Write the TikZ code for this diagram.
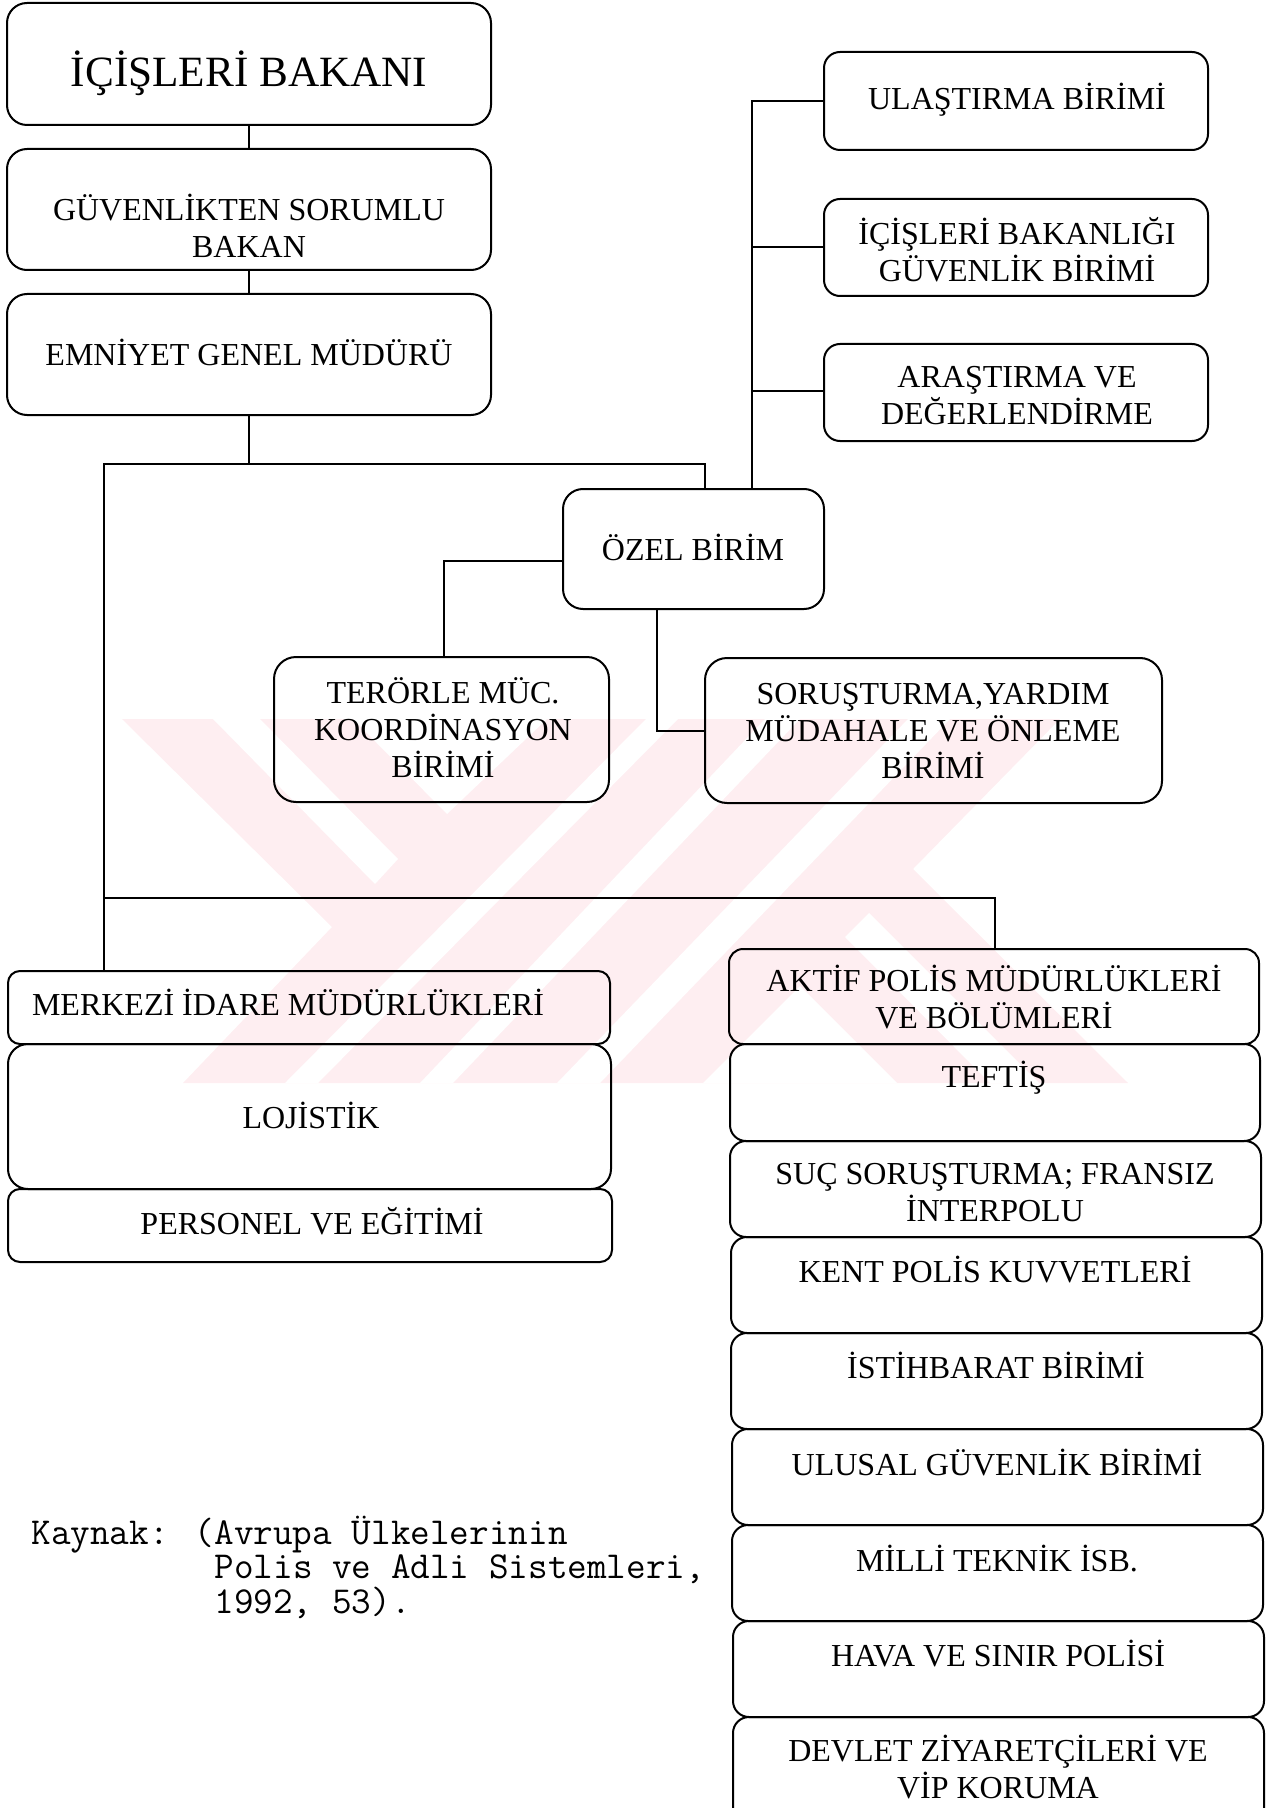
\documentclass[tikz,border=0pt]{standalone}
\usepackage{fontspec}
\setmainfont{Liberation Serif}
\usetikzlibrary{fit}
\definecolor{wm}{RGB}{254,238,241}
\newcommand{\stt}{\rule[-0.02em]{0pt}{0.68em}}
\setlength{\lineskiplimit}{-20pt}
\tikzset{
  x=0.5pt,y=-0.5pt,
  boxst/.style={draw=black,line width=1pt,inner sep=0pt,outer sep=0pt},
  labelst/.style={inner sep=0pt,align=center,font=\fontsize{16}{18.5}\selectfont,
    execute at begin node={\stt},execute at end node={\stt}},
  titlest/.style={font=\fontsize{21.6}{26}\selectfont},
  link/.style={draw=black,line width=1pt,line join=miter},
  srcst/.style={inner sep=0pt,align=left,anchor=west,font=\fontsize{19.05}{17.2}\selectfont\ttfamily}
}
% name, x1, y1, x2, y2, radius (pt), text x, text y, text
\newcommand{\bx}[9]{%
  \node[boxst,rounded corners=#6pt,fit={(#2,#3)(#4,#5)}] (#1) {};
  \node[labelst] (#1t) at (#7,#8) {#9};
}
\begin{document}
\begin{tikzpicture}
\useasboundingbox (0,0) rectangle (1272,1808);
\clip (0,0) rectangle (1272,1808);
% watermark
\begin{scope}
  \clip (122,719) -- (1060,719) -- (913,869) -- (1128,1083) -- (183,1083) -- (332,927) -- cycle;
  \fill[wm] (100,700) rectangle (1150,1100);
  \fill[white] (213,719) -- (260,719) -- (398,859) -- (375,884) -- cycle;
  \fill[white] (353,719) -- (547,719) -- (447,814) -- cycle;
  \fill[white] (990,1083) -- (1039,1083) -- (869,913) -- (845,937) -- cycle;
  \fill[white] (703,1083) -- (897,1083) -- (800,986) -- cycle;
  \fill[white] (285,1083) -- (318,1083) -- (678,719) -- (646,719) -- cycle;
  \fill[white] (420,1083) -- (453,1083) -- (800,719) -- (765,719) -- cycle;
  \fill[white] (557,1083) -- (600,1083) -- (950,719) -- (908,719) -- cycle;
\end{scope}
% boxes
\node[boxst,rounded corners=10pt,fit={(7,3)(491,125)}] (bak) {};
\node[labelst,titlest] (bakt) at (249,73) {İÇİŞLERİ BAKANI};
\bx{guv}{7}{149}{491}{270}{10}{249}{226}{GÜVENLİKTEN SORUMLU\\BAKAN}
\bx{emn}{7}{294}{491}{415}{10}{249}{353}{EMNİYET GENEL MÜDÜRÜ}
\bx{ula}{824}{52}{1208}{150}{8}{1017}{100}{ULAŞTIRMA BİRİMİ}
\bx{ibg}{824}{199}{1208}{296}{8}{1017}{250}{İÇİŞLERİ BAKANLIĞI\\GÜVENLİK BİRİMİ}
\bx{ars}{824}{344}{1208}{441}{8}{1017}{396}{ARAŞTIRMA VE\\DEĞERLENDİRME}
\bx{oz}{563}{489}{824}{609}{10}{693}{548}{ÖZEL BİRİM}
\bx{ter}{274}{657}{609}{802}{11}{443}{728}{TERÖRLE MÜC.\\KOORDİNASYON\\BİRİMİ}
\bx{sor}{705}{658}{1162}{803}{11}{933}{731}{SORUŞTURMA,YARDIM\\MÜDAHALE VE ÖNLEME\\BİRİMİ}
\bx{mer}{8}{971}{610}{1044}{6}{288}{1003}{MERKEZİ İDARE MÜDÜRLÜKLERİ}
\bx{loj}{8}{1044}{611}{1189}{10}{311}{1116}{LOJİSTİK}
\bx{per}{8}{1189}{612}{1262}{6}{312}{1221}{PERSONEL VE EĞİTİMİ}
\bx{akt}{729}{949}{1259}{1044}{7}{994}{997}{AKTİF POLİS MÜDÜRLÜKLERİ\\VE BÖLÜMLERİ}
\bx{tef}{730}{1044}{1260}{1141}{8}{994}{1078}{TEFTİŞ}
\bx{suc}{730}{1141}{1261}{1237}{8}{995}{1193}{SUÇ SORUŞTURMA; FRANSIZ\\İNTERPOLU}
\bx{ken}{731}{1237}{1262}{1333}{8}{995}{1270}{KENT POLİS KUVVETLERİ}
\bx{ist}{731}{1333}{1262}{1429}{8}{996}{1366}{İSTİHBARAT BİRİMİ}
\bx{uls}{732}{1429}{1263}{1525}{8}{997}{1463}{ULUSAL GÜVENLİK BİRİMİ}
\bx{mil}{732}{1525}{1263}{1621}{8}{997}{1559}{MİLLİ TEKNİK İSB.}
\bx{hav}{733}{1621}{1264}{1717}{8}{998}{1654}{HAVA VE SINIR POLİSİ}
\bx{dev}{733}{1717}{1264}{1832}{8}{998}{1767}{DEVLET ZİYARETÇİLERİ VE\\VİP KORUMA}
% junctions
\coordinate (trunktop) at (104,464);
\coordinate (ozdrop) at (705,464);
\coordinate (trunkmid) at (104,898);
\coordinate (aktdrop) at (995,898);
\coordinate (ozup) at (752,300);
\coordinate (terbend) at (444,561);
\coordinate (sorbend) at (657,730);
\coordinate (arsj) at (824,391);
% connectors
\draw[link] (bak.south) -- (guv.north);
\draw[link] (guv.south) -- (emn.north);
\draw[link] (emn.south) -- (emn.south |- trunktop);
\draw[link] (oz.north -| ozdrop) -- (ozdrop) -- (trunktop) -- (trunktop |- mer.north);
\draw[link] (trunkmid) -- (aktdrop) -- (aktdrop |- akt.north);
\draw[link] (oz.north -| ozup) |- (ula.west);
\draw[link] (ozup |- ibg.west) -- (ibg.west);
\draw[link] (ozup |- arsj) -- (arsj);
\draw[link] (oz.west |- terbend) -- (terbend) -- (terbend |- ter.north);
\draw[link] (oz.south -| sorbend) |- (sor.west);
% source
\node[srcst] (src) at (31,1569) {Kaynak: (Avrupa Ülkelerinin\\\phantom{Kaynak: (}Polis ve Adli Sistemleri,\\\phantom{Kaynak: (}1992, 53).};
\end{tikzpicture}
\end{document}
